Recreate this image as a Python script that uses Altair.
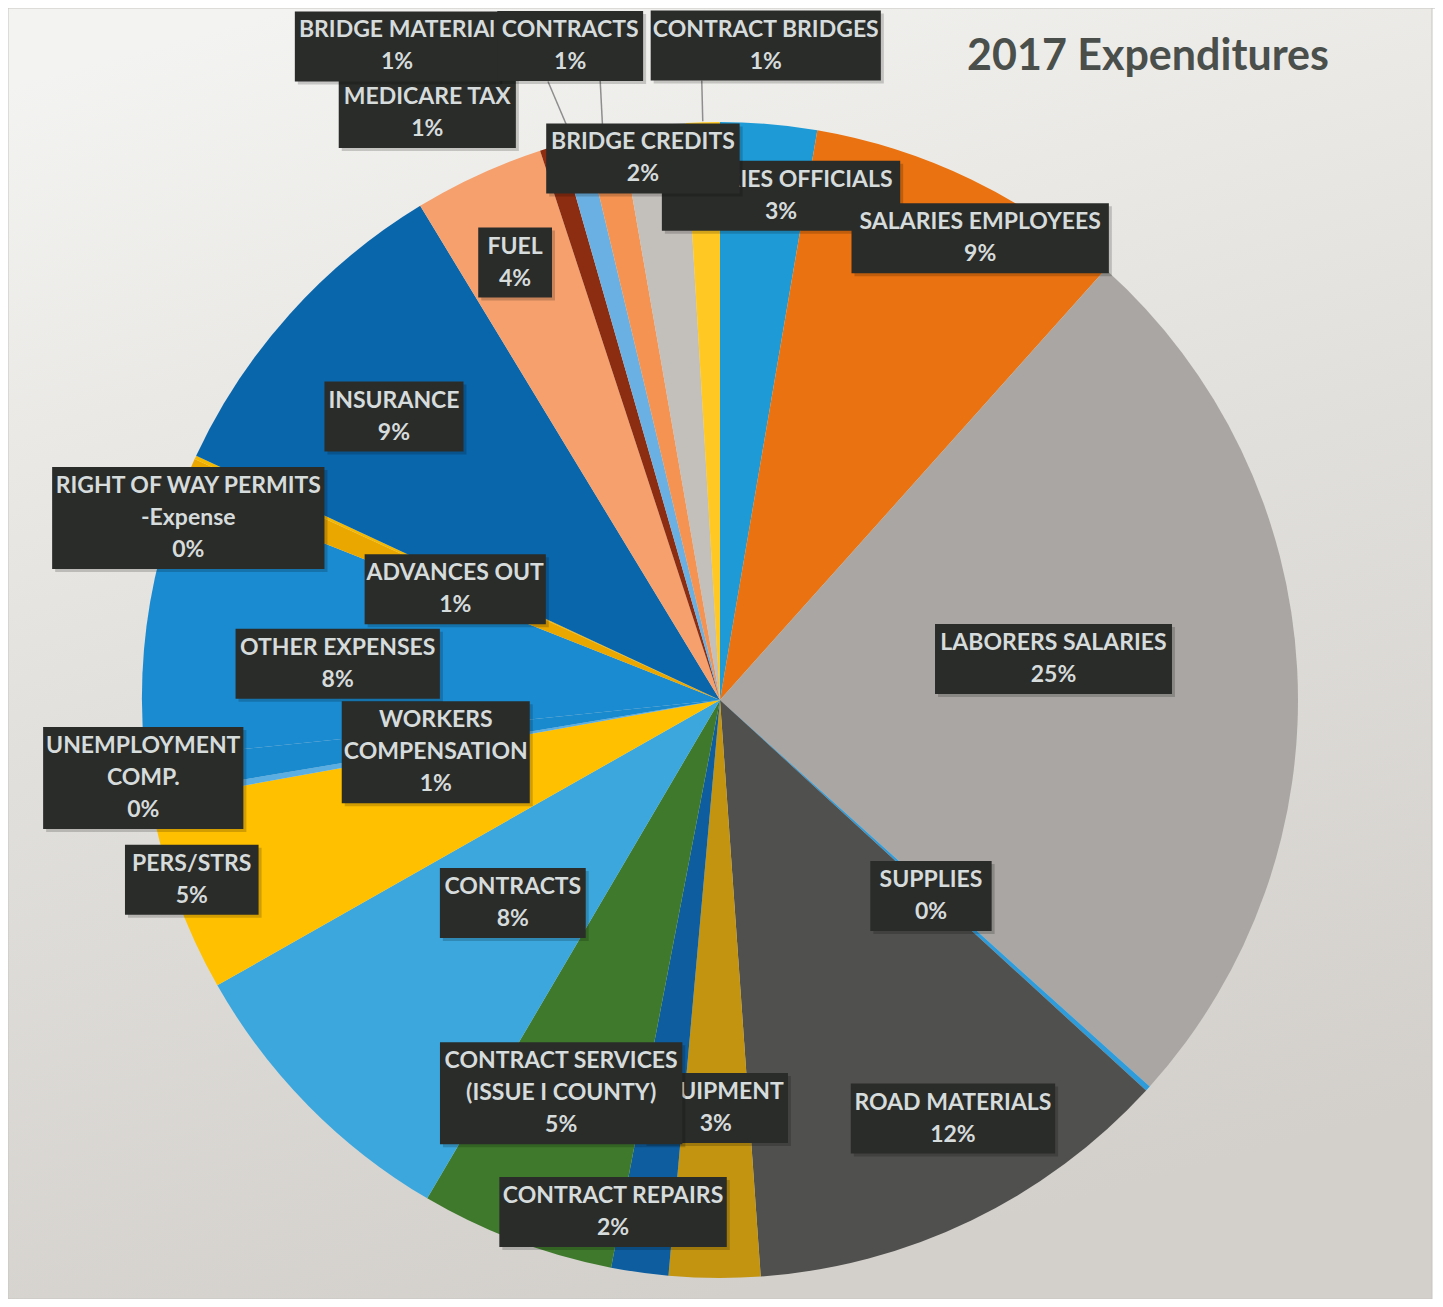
import math
import altair as alt
import pandas as pd

TITLE = "2017 Expenditures"

# slices, clockwise from 12 o'clock
categories = [
    "SALARIES OFFICIALS", "SALARIES EMPLOYEES", "LABORERS SALARIES", "SUPPLIES",
    "ROAD MATERIALS", "EQUIPMENT", "CONTRACT REPAIRS", "CONTRACT SERVICES\n(ISSUE I COUNTY)",
    "CONTRACTS", "PERS/STRS", "UNEMPLOYMENT\nCOMP.", "WORKERS\nCOMPENSATION",
    "OTHER EXPENSES", "ADVANCES OUT", "RIGHT OF WAY PERMITS\n-Expense", "INSURANCE",
    "FUEL", "MEDICARE TAX", "BRIDGE MATERIAl", "CONTRACTS", "BRIDGE CREDITS", "CONTRACT BRIDGES",
]
values = [2.7, 8.95, 25.1, 0.15, 12.1, 2.55, 1.6, 5.45, 8.35, 5.4, 0.2, 1.0,
          7.65, 0.85, 0.1, 9.4, 3.65, 0.6, 0.7, 1.0, 1.8, 0.95]
colors = ["#1E9BD7", "#EA7210", "#A9A6A3", "#2E9CDB", "#50504E", "#C3940F",
          "#0E5E9F", "#3F7A2C", "#3BA7DD", "#FFC000", "#5AAEE2", "#1A8ACF",
          "#1A8BD0", "#E9A700", "#F5B800", "#0A66AB", "#F5A06D", "#8C2C10",
          "#6BB0E2", "#F59352", "#C3BFBB", "#FFC823"]

# label layout (polar, relative to the pie centre): angle in degrees clockwise from top, radius px
label_angle = [6.9, 29.4, 83.0, 132.9, 150.9, 180.6, 191.8, 202.0, 225.6, 251.2, 262.3,
               259.6, 275.4, 292.7, 288.9, 311.0, 334.9, 333.5, 333.7, 347.1, 351.9, 4.0]
label_radius = [508, 530, 336, 288, 479, 408, 523, 424, 290, 558, 582,
                289, 384, 287, 562, 432, 483, 656, 729, 671, 547, 656]
leader_dx = {18: 151, 19: 30, 21: -64}

CX, CY, R = 712, 692, 578
W, H = 1427, 1291
BOX = "#2A2C2A"
TXT = "#D6DBDB"
LINE_H = 32

n = len(values)
total = sum(values)
keys = [f"s{i:02d}" for i in range(n)]

slices = pd.DataFrame({"key": keys, "order": list(range(n)), "value": values})


def text_units(s):
    u = 0.0
    for ch in s:
        if ch in "MW":
            u += 1.5
        elif ch in "OCNDGQU":
            u += 1.1
        elif ch in "I .()-/l":
            u += 0.5
        else:
            u += 1.0
    return u


rows = []
cum = 0.0
for i in range(n):
    v = values[i]
    mid = (cum + v / 2) / total * 2 * math.pi
    cum += v
    pct = int(math.floor(v / total * 100 + 0.5))
    lines = categories[i].split("\n") + [f"{pct}%"]
    text = "\n".join(lines)
    nl = len(lines)
    w = max(text_units(s) for s in lines) * 13.6 + 18
    h = nl * LINE_H + 6
    a = math.radians(label_angle[i])
    lx = CX + label_radius[i] * math.sin(a)
    ly = CY - label_radius[i] * math.cos(a)
    row = dict(i=i, label=text, lx=lx, ty=ly - (nl - 1) * LINE_H / 2,
               x1=lx - w / 2, x2=lx + w / 2, y1=ly - h / 2, y2=ly + h / 2,
               sx1=lx - w / 2 + 3, sx2=lx + w / 2 + 3, sy1=ly - h / 2 + 3, sy2=ly + h / 2 + 3)
    if i in leader_dx:
        row.update(ax=lx + leader_dx[i], ay=ly + h / 2,
                   bx=CX + (R + 1) * math.sin(mid), by=CY - (R + 1) * math.cos(mid))
    rows.append(row)
lab = pd.DataFrame(rows)


def px(field):
    return alt.X(f"{field}:Q", scale=None, axis=None)


def py(field):
    return alt.Y(f"{field}:Q", scale=None, axis=None)


one = pd.DataFrame({"t": [TITLE]})

bg = alt.Chart(one).mark_rect(
    color=alt.Gradient(
        gradient="linear",
        stops=[alt.GradientStop(color="#F3F3F1", offset=0),
               alt.GradientStop(color="#E1DFDB", offset=0.5),
               alt.GradientStop(color="#D3D0CC", offset=1)],
        x1=0.2, y1=0, x2=0.5, y2=1),
    stroke="#C8C6C2", strokeWidth=1,
).encode(x=alt.value(0), x2=alt.value(1424), y=alt.value(0), y2=alt.value(1291))

pie = alt.Chart(slices).mark_arc(outerRadius=R, innerRadius=0, strokeWidth=0).encode(
    theta=alt.Theta("value:Q", stack=True),
    color=alt.Color("key:N", scale=alt.Scale(domain=keys, range=colors), legend=None),
    order=alt.Order("order:Q", sort="ascending"),
    x=alt.value(CX), y=alt.value(CY),
)

layers = [bg, pie]
base = alt.Chart(lab)
for i in range(n):
    sub = base.transform_filter(alt.datum.i == i)
    if i in leader_dx:
        layers.append(sub.mark_rule(color="#8E8E8E", strokeWidth=1.5).encode(
            x=px("ax"), y=py("ay"), x2="bx:Q", y2="by:Q"))
    layers.append(sub.mark_rect(color="#000000", opacity=0.18).encode(
        x=px("sx1"), x2="sx2:Q", y=py("sy1"), y2="sy2:Q"))
    layers.append(sub.mark_rect(color=BOX).encode(
        x=px("x1"), x2="x2:Q", y=py("y1"), y2="y2:Q"))
    layers.append(sub.mark_text(
        font="Lato", fontSize=23, fontWeight="bold", color=TXT,
        lineBreak="\n", lineHeight=LINE_H, align="center", baseline="middle",
    ).encode(x=px("lx"), y=py("ty"), text="label:N"))

title = alt.Chart(one).mark_text(
    font="Lato", fontSize=43, fontWeight="bold", color="#4A4F4B",
    align="center", baseline="middle",
).encode(x=alt.value(1140), y=alt.value(49), text="t:N")
layers.append(title)

chart = alt.layer(*layers).properties(
    width=W, height=H, padding=0,
    autosize=alt.AutoSizeParams(type="none"),
).configure_view(stroke=None).configure(background="#FFFFFF")

chart.save("out.html", embed_options={"renderer": "svg", "actions": False})
